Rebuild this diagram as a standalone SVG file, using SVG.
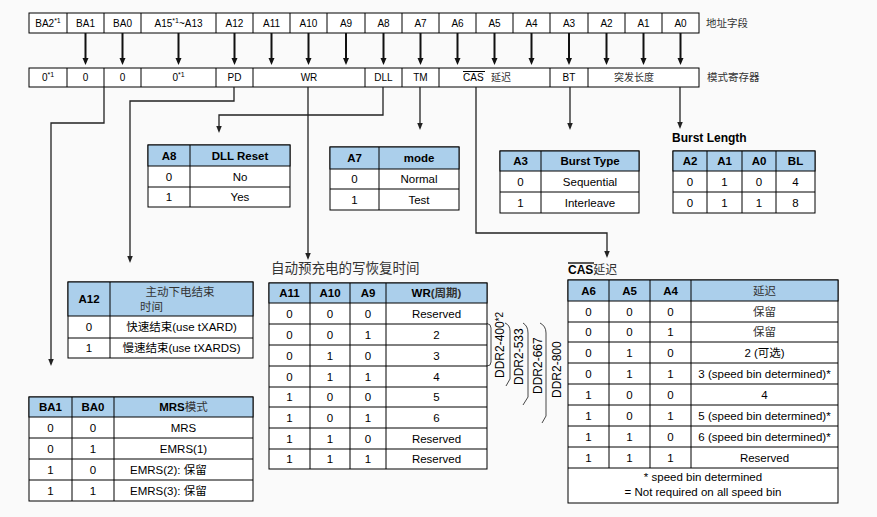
<svg xmlns="http://www.w3.org/2000/svg" width="877" height="517" viewBox="0 0 877 517">
<style>
.bd{fill:#fff;stroke:#000;stroke-width:1}
.hd{fill:#abcfeb;stroke:#000;stroke-width:1}
.ln{fill:none;stroke:#000;stroke-width:1}
.t{font-family:"Liberation Sans","Noto Sans CJK SC",sans-serif;font-size:11.5px;fill:#000;text-anchor:middle}
.s{font-size:10px}
.b{font-weight:bold}
.cn{fill:#333;font-weight:normal}
.sup{font-size:7px}
.thick{fill:none;stroke:#111;stroke-width:2}
.conn{fill:none;stroke:#222;stroke-width:1.3}
.br{fill:none;stroke:#333;stroke-width:0.9}
</style>
<defs>
<marker id="ah" markerUnits="userSpaceOnUse" markerWidth="8" markerHeight="7" refX="0" refY="3" orient="auto"><path d="M0,0 L7,3 L0,6 z" fill="#111"/></marker>
<marker id="ah2" markerUnits="userSpaceOnUse" markerWidth="8" markerHeight="6" refX="0" refY="2.75" orient="auto"><path d="M0,0 L7,2.75 L0,5.5 z" fill="#222"/></marker>
</defs>
<rect x="0" y="0" width="877" height="517" fill="#fafafa"/>

<g id="address-row">
<rect x="29" y="13" width="670" height="20" class="bd"/>
<path class="ln" d="M67,13V33M104,13V33M141,13V33M216,13V33M253,13V33M290,13V33M327,13V33M365,13V33M402,13V33M439,13V33M476,13V33M513,13V33M550,13V33M588,13V33M625,13V33M662,13V33"/>
<g class="t s">
<text x="48" y="26.5">BA2<tspan class="sup" dy="-4">*1</tspan></text>
<text x="85.5" y="26.5">BA1</text>
<text x="122.5" y="26.5">BA0</text>
<text x="178.5" y="26.5">A15<tspan class="sup" dy="-4">*1</tspan><tspan dy="4">~A13</tspan></text>
<text x="234.5" y="26.5">A12</text>
<text x="271.5" y="26.5">A11</text>
<text x="308.5" y="26.5">A10</text>
<text x="346" y="26.5">A9</text>
<text x="383.5" y="26.5">A8</text>
<text x="420.5" y="26.5">A7</text>
<text x="457.5" y="26.5">A6</text>
<text x="494.5" y="26.5">A5</text>
<text x="531.5" y="26.5">A4</text>
<text x="569" y="26.5">A3</text>
<text x="606.5" y="26.5">A2</text>
<text x="643.5" y="26.5">A1</text>
<text x="680.5" y="26.5">A0</text>
</g>
<text class="t cn" x="706" y="27" style="text-anchor:start;font-size:10.5px">地址字段</text>
</g>

<g id="mode-row">
<rect x="29" y="68" width="670" height="19" class="bd"/>
<path class="ln" d="M67,68V87M104,68V87M141,68V87M216,68V87M253,68V87M365,68V87M402,68V87M439,68V87M550,68V87M588,68V87"/>
<g class="t s">
<text x="48" y="81">0<tspan class="sup" dy="-4">*1</tspan></text>
<text x="85.5" y="81">0</text>
<text x="122.5" y="81">0</text>
<text x="178.5" y="81">0<tspan class="sup" dy="-4">*1</tspan></text>
<text x="234.5" y="81">PD</text>
<text x="309" y="81">WR</text>
<text x="383.5" y="81">DLL</text>
<text x="420.5" y="81">TM</text>
<text x="463" y="81" style="text-anchor:start">CAS</text>
<text x="491" y="81" style="text-anchor:start" class="cn">延迟</text>
<text x="569" y="81">BT</text>
<text x="634" y="81" class="cn">突发长度</text>
</g>
<path class="ln" d="M463,71.5H485"/>
<text class="t cn" x="707" y="81" style="text-anchor:start;font-size:10.5px">模式寄存器</text>
</g>

<g id="connectors">
<g class="thick" marker-end="url(#ah)">
<path d="M85.5,33V58"/><path d="M122.5,33V58"/><path d="M178.5,33V58"/><path d="M234.5,33V58"/>
<path d="M271.5,33V58"/><path d="M308.5,33V58"/><path d="M346,33V58"/><path d="M383.5,33V58"/>
<path d="M420.5,33V58"/><path d="M457.5,33V58"/><path d="M494.5,33V58"/><path d="M531.5,33V58"/>
<path d="M569,33V58"/><path d="M606.5,33V58"/><path d="M643.5,33V58"/><path d="M680.5,33V58"/>
</g>
<g class="conn" marker-end="url(#ah2)">
<path d="M104,87V123H51V359"/>
<path d="M234,87V101H130V256"/>
<path d="M308,87V253"/>
<path d="M383,87V115H219V126"/>
<path d="M420,87V123"/>
<path d="M476,87V233H607V251"/>
<path d="M570,87V123"/>
<path d="M680,87V122"/>
</g>
<g class="br">
<path d="M487,323.5Q491,324 491,328V362Q491,366 487,366"/>
<path d="M505,323Q510,325 510,331V379L506,386"/>
<path d="M523,323Q528,326 528,333V397L523,405"/>
<path d="M540,323Q546,326 546,333V416L542,423"/>
</g>
<g class="t" style="font-size:12px;text-anchor:start">
<text transform="translate(503.5,378) rotate(-90)">DDR2-400<tspan font-size="10" dy="-1">*2</tspan></text>
<text transform="translate(522.5,385) rotate(-90)">DDR2-533</text>
<text transform="translate(541.5,394) rotate(-90)">DDR2-667</text>
<text transform="translate(560.5,398) rotate(-90)">DDR2-800</text>
</g>
</g>

<g id="tbl-dll">
<rect x="148" y="145" width="142" height="62" class="bd"/>
<rect x="148" y="145" width="142" height="21" class="hd"/>
<path class="ln" d="M148,187H290M190,145V207"/>
<g class="t">
<text x="169" y="159.5" class="b">A8</text><text x="240" y="159.5" class="b">DLL Reset</text>
<text x="169" y="180.5">0</text><text x="240" y="180.5">No</text>
<text x="169" y="201">1</text><text x="240" y="201">Yes</text>
</g>
</g>

<g id="tbl-mode">
<rect x="330" y="147" width="129" height="63" class="bd"/>
<rect x="330" y="147" width="129" height="22" class="hd"/>
<path class="ln" d="M330,189H459M379,147V210"/>
<g class="t">
<text x="354.5" y="162" class="b">A7</text><text x="419" y="162" class="b">mode</text>
<text x="354.5" y="183">0</text><text x="419" y="183">Normal</text>
<text x="354.5" y="203.5">1</text><text x="419" y="203.5">Test</text>
</g>
</g>

<g id="tbl-bt">
<rect x="500" y="151" width="139" height="62" class="bd"/>
<rect x="500" y="151" width="139" height="20" class="hd"/>
<path class="ln" d="M500,192H639M541,151V213"/>
<g class="t">
<text x="520.5" y="165" class="b">A3</text><text x="590" y="165" class="b">Burst Type</text>
<text x="520.5" y="185.5">0</text><text x="590" y="185.5">Sequential</text>
<text x="520.5" y="206.5">1</text><text x="590" y="206.5">Interleave</text>
</g>
</g>

<g id="tbl-bl">
<text class="t b" x="672" y="141.5" style="text-anchor:start;font-size:12px">Burst Length</text>
<rect x="673" y="151" width="142" height="62" class="bd"/>
<rect x="673" y="151" width="142" height="20" class="hd"/>
<path class="ln" d="M673,192H815M707,151V213M742,151V213M776,151V213"/>
<g class="t">
<text x="690" y="165" class="b">A2</text><text x="724.5" y="165" class="b">A1</text><text x="759" y="165" class="b">A0</text><text x="795.5" y="165" class="b">BL</text>
<text x="690" y="185.5">0</text><text x="724.5" y="185.5">1</text><text x="759" y="185.5">0</text><text x="795.5" y="185.5">4</text>
<text x="690" y="206.5">0</text><text x="724.5" y="206.5">1</text><text x="759" y="206.5">1</text><text x="795.5" y="206.5">8</text>
</g>
</g>

<g id="tbl-pd">
<rect x="68" y="282" width="185" height="76" class="bd"/>
<rect x="68" y="282" width="185" height="34" class="hd"/>
<path class="ln" d="M68,338H253M110,282V358"/>
<g class="t">
<text x="89" y="303" class="b">A12</text>
<text x="180" y="295.5" class="cn">主动下电结束</text>
<text x="140" y="311" class="cn" style="text-anchor:start">时间</text>
<text x="89" y="331">0</text><text x="181.5" y="331">快速结束(use tXARD)</text>
<text x="89" y="352">1</text><text x="181.5" y="352">慢速结束(use tXARDS)</text>
</g>
</g>

<g id="tbl-mrs">
<rect x="29" y="397" width="224" height="104" class="bd"/>
<rect x="29" y="397" width="224" height="20" class="hd"/>
<path class="ln" d="M29,438H253M29,459H253M29,480H253M72,397V501M114,397V501"/>
<g class="t">
<text x="50.5" y="411" class="b">BA1</text><text x="93" y="411" class="b">BA0</text><text x="183.5" y="411" class="b">MRS<tspan class="cn">模式</tspan></text>
<text x="50.5" y="431.5">0</text><text x="93" y="431.5">0</text><text x="183.5" y="431.5">MRS</text>
<text x="50.5" y="452.5">0</text><text x="93" y="452.5">1</text><text x="183.5" y="452.5">EMRS(1)</text>
<text x="50.5" y="473.5">1</text><text x="93" y="473.5">0</text><text x="130" y="473.5" style="text-anchor:start">EMRS(2): 保留</text>
<text x="50.5" y="494.5">1</text><text x="93" y="494.5">1</text><text x="130" y="494.5" style="text-anchor:start">EMRS(3): 保留</text>
</g>
</g>

<g id="tbl-wr">
<text class="t cn" x="271" y="273" style="text-anchor:start;font-size:13.5px">自动预充电的写恢复时间</text>
<rect x="269" y="283" width="218" height="186" class="bd"/>
<rect x="269" y="283" width="218" height="20" class="hd"/>
<path class="ln" d="M269,324H487M269,345H487M269,366H487M269,387H487M269,407H487M269,428H487M269,449H487M310,283V469M350,283V469M386,283V469"/>
<g class="t">
<text x="289.5" y="297" class="b">A11</text><text x="330" y="297" class="b">A10</text><text x="368" y="297" class="b">A9</text><text x="436.5" y="297" class="b">WR<tspan fill="#333">(周期)</tspan></text>
<text x="289.5" y="317.5">0</text><text x="330" y="317.5">0</text><text x="368" y="317.5">0</text><text x="436.5" y="317.5">Reserved</text>
<text x="289.5" y="338.5">0</text><text x="330" y="338.5">0</text><text x="368" y="338.5">1</text><text x="436.5" y="338.5">2</text>
<text x="289.5" y="359.5">0</text><text x="330" y="359.5">1</text><text x="368" y="359.5">0</text><text x="436.5" y="359.5">3</text>
<text x="289.5" y="380.5">0</text><text x="330" y="380.5">1</text><text x="368" y="380.5">1</text><text x="436.5" y="380.5">4</text>
<text x="289.5" y="401">1</text><text x="330" y="401">0</text><text x="368" y="401">0</text><text x="436.5" y="401">5</text>
<text x="289.5" y="421.5">1</text><text x="330" y="421.5">0</text><text x="368" y="421.5">1</text><text x="436.5" y="421.5">6</text>
<text x="289.5" y="442.5">1</text><text x="330" y="442.5">1</text><text x="368" y="442.5">0</text><text x="436.5" y="442.5">Reserved</text>
<text x="289.5" y="463">1</text><text x="330" y="463">1</text><text x="368" y="463">1</text><text x="436.5" y="463">Reserved</text>
</g>
</g>

<g id="tbl-cas">
<text class="t b" x="568" y="274" style="text-anchor:start;font-size:12px">CAS<tspan class="cn">延迟</tspan></text>
<path class="ln" d="M568,263H594" style="stroke-width:1.3"/>
<rect x="568" y="280" width="270" height="223" class="bd"/>
<rect x="568" y="280" width="270" height="21" class="hd"/>
<path class="ln" d="M568,322H838M568,342H838M568,363H838M568,384H838M568,405H838M568,426H838M568,447H838M568,468H838M609,280V468M650,280V468M691,280V468"/>
<g class="t">
<text x="588.5" y="294.5" class="b">A6</text><text x="629.5" y="294.5" class="b">A5</text><text x="670.5" y="294.5" class="b">A4</text><text x="764.5" y="294.5" class="cn">延迟</text>
<text x="588.5" y="315.5">0</text><text x="629.5" y="315.5">0</text><text x="670.5" y="315.5">0</text><text x="764.5" y="315.5" class="cn">保留</text>
<text x="588.5" y="336">0</text><text x="629.5" y="336">0</text><text x="670.5" y="336">1</text><text x="764.5" y="336" class="cn">保留</text>
<text x="588.5" y="356.5">0</text><text x="629.5" y="356.5">1</text><text x="670.5" y="356.5">0</text><text x="764.5" y="356.5">2 (可选)</text>
<text x="588.5" y="377.5">0</text><text x="629.5" y="377.5">1</text><text x="670.5" y="377.5">1</text><text x="764.5" y="377.5">3 (speed bin determined)*</text>
<text x="588.5" y="398.5">1</text><text x="629.5" y="398.5">0</text><text x="670.5" y="398.5">0</text><text x="764.5" y="398.5">4</text>
<text x="588.5" y="419.5">1</text><text x="629.5" y="419.5">0</text><text x="670.5" y="419.5">1</text><text x="764.5" y="419.5">5 (speed bin determined)*</text>
<text x="588.5" y="440.5">1</text><text x="629.5" y="440.5">1</text><text x="670.5" y="440.5">0</text><text x="764.5" y="440.5">6 (speed bin determined)*</text>
<text x="588.5" y="461.5">1</text><text x="629.5" y="461.5">1</text><text x="670.5" y="461.5">1</text><text x="764.5" y="461.5">Reserved</text>
<text x="703" y="481">* speed bin determined</text>
<text x="703" y="496">= Not required on all speed bin</text>
</g>
</g>
</svg>
